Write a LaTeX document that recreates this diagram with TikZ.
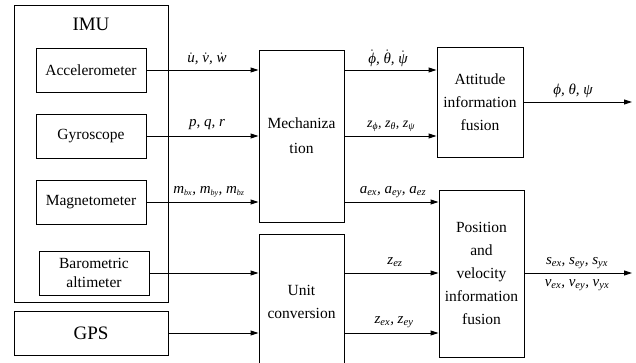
\documentclass[tikz,border=0pt]{standalone}
\usepackage{fontspec}
\setmainfont{Liberation Serif}
\newfontfamily\tnr{Liberation Serif}
\usetikzlibrary{arrows.meta}
\newcommand{\dt}[1]{$\dot{\hbox{#1}}$}
\begin{document}
\begin{tikzpicture}[x=1pt,y=-1pt,
  box/.style={draw, line width=0.9pt, inner sep=0pt, align=center, font=\tnr\fontsize{15.5}{23}\selectfont},
  big/.style={font=\tnr\fontsize{19}{23}\selectfont},
  arr/.style={line width=0.9pt, -{Triangle[length=8pt,width=5pt]}},
  lab/.style={inner sep=0pt, font=\tnr\itshape\fontsize{15}{17}\selectfont}]
\useasboundingbox (0,0) rectangle (636,363);
\clip (0,0) rectangle (636,363);
% IMU group
\node[box, minimum width=154pt, minimum height=297pt] (imu) at (91,153.5) {};
\node[big, inner sep=0pt] (imut) at (91,24) {IMU};
\node[box, minimum width=110pt, minimum height=44pt] (acc) at (91,70) {Accelerometer};
\node[box, minimum width=110pt, minimum height=44pt] (gyro) at (91,136) {Gyroscope};
\node[box, minimum width=110pt, minimum height=44pt] (mag) at (91,202) {Magnetometer};
\node[box, minimum width=110pt, minimum height=44pt, font=\tnr\fontsize{15.5}{19}\selectfont] (baro) at (94,273) {Barometric\\altimeter};
\node[box, big, minimum width=154pt, minimum height=44pt] (gps) at (91,333) {GPS};
% processing
\node[box, minimum width=85pt, minimum height=172pt, font=\tnr\fontsize{15.5}{25}\selectfont] (mech) at (301.5,136) {Mechaniza\\tion};
\node[box, minimum width=85pt, minimum height=136pt] (unit) at (301.5,302) {Unit\\conversion};
\node[box, minimum width=86pt, minimum height=110pt] (att) at (480,102) {Attitude\\information\\fusion};
\node[box, minimum width=85pt, minimum height=167pt] (pos) at (481.5,273.5) {Position\\and\\velocity\\information\\fusion};
\coordinate (o1) at (632,102);
\coordinate (o2) at (632,273);
% arrows
\draw[arr] (acc.east) -- (acc.east -| mech.west);
\draw[arr] (gyro.east) -- (gyro.east -| mech.west);
\draw[arr] (mag.east) -- (mag.east -| mech.west);
\draw[arr] (baro.east) -- (baro.east -| unit.west);
\draw[arr] (gps.east) -- (gps.east -| unit.west);
\draw[arr] (mech.east |- acc.east) -- (att.west |- acc.east);
\draw[arr] (mech.east |- gyro.east) -- (att.west |- gyro.east);
\draw[arr] (mech.east |- 0,202) -- (pos.west |- 0,202);
\draw[arr] (unit.east |- baro.east) -- (pos.west |- baro.east);
\draw[arr] (unit.east |- gps.east) -- (pos.west |- gps.east);
\draw[arr] (att.east |- o1) -- (o1);
\draw[arr] (pos.east |- o2) -- (o2);
% labels
\node[lab] (l1) at (207,59) {\dt{u}, \dt{v}, \dt{w}};
\node[lab] (l2) at (207,125) {p, q, r};
\node[lab] (l3) at (209,192) {m\textsubscript{\footnotesize bx}, m\textsubscript{\footnotesize by}, m\textsubscript{\footnotesize bz}};
\node[lab] (l4) at (388,58) {\dt{ϕ}, \dt{θ}, \dt{ψ}};
\node[lab, font=\tnr\itshape\fontsize{14}{16}\selectfont] (l5) at (391,126) {z\textsubscript{ϕ}, z\textsubscript{θ}, z\textsubscript{ψ}};
\node[lab] (l6) at (573,91) {ϕ, θ, ψ};
\node[lab] (l7) at (393,192) {a\textsubscript{ex}, a\textsubscript{ey}, a\textsubscript{ez}};
\node[lab] (l8) at (395,262) {z\textsubscript{ez}};
\node[lab] (l9) at (394,322) {z\textsubscript{ex}, z\textsubscript{ey}};
\node[lab] (l10) at (577,263) {s\textsubscript{ex}, s\textsubscript{ey}, s\textsubscript{yx}};
\node[lab] (l11) at (577,285) {v\textsubscript{ex}, v\textsubscript{ey}, v\textsubscript{yx}};
\end{tikzpicture}
\end{document}
